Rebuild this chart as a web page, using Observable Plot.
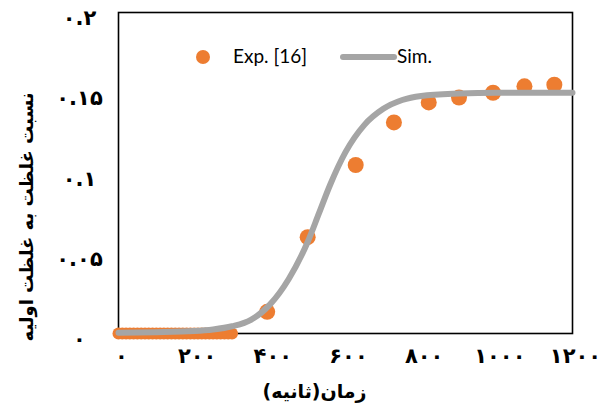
<!DOCTYPE html>
<html>
<head>
<meta charset="utf-8">
<script src="https://cdn.jsdelivr.net/npm/d3@7"></script>
<script src="https://cdn.jsdelivr.net/npm/@observablehq/plot@0.6"></script>
<style>
  html, body { margin: 0; padding: 0; background: #fff; }
  #wrap { position: relative; width: 610px; height: 412px; }
  #legend { position: absolute; left: 0; top: 0; font-family: Lato, "Open Sans", sans-serif; font-size: 19px; color: #000; }
  .lg { position: absolute; white-space: nowrap; }
  .dot { position: absolute; width: 14px; height: 14px; border-radius: 50%; background: #ED7D31; }
  .ln { position: absolute; height: 6px; border-radius: 3px; background: #A5A5A5; }
</style>
</head>
<body>
<div id="wrap">
  <div id="chart"></div>
  <div id="legend">
    <div class="dot" style="left:196px; top:50px;"></div>
    <div class="lg" style="left:233px; top:44px;">Exp. [16]</div>
    <div class="ln" style="left:340px; top:54px; width:57px;"></div>
    <div class="lg" style="left:397px; top:44px;">Sim.</div>
  </div>
</div>
<script>
// Axis ticks and labels (Persian digits)
const xTicks = [0, 200, 400, 600, 800, 1000, 1200];
const xTickLabels = ["۰", "۲۰۰", "۴۰۰", "۶۰۰", "۸۰۰", "۱۰۰۰", "۱۲۰۰"];
const yTicks = [0, 0.05, 0.1, 0.15, 0.2];
const yTickLabels = ["۰", "۰.۰۵", "۰.۱", "۰.۱۵", "۰.۲"];
const xTitle = "زمان(ثانیه)";
const yTitle = "نسبت غلظت به غلظت اولیه";

// Experimental data [16] — dense early points at zero
const expFlatTimes = [0, 10, 20, 30, 40, 50, 60, 70, 80, 90, 100, 110, 120, 130, 140, 150, 160, 170, 180, 190, 200, 210, 220, 230, 240, 250, 260, 270, 280, 290, 300];
const expFlatValues = [0, 0, 0, 0, 0, 0, 0, 0, 0, 0, 0, 0, 0, 0, 0, 0, 0, 0, 0, 0, 0, 0, 0, 0, 0, 0, 0, 0, 0, 0, 0];
// Experimental data [16] — later points
const expTimes = [393, 500, 627, 728, 820, 900, 990, 1073, 1152];
const expValues = [0.0135, 0.060, 0.105, 0.1315, 0.144, 0.147, 0.150, 0.154, 0.155];

// Simulation
const simTimes = [0, 100, 200, 250, 300, 350, 400, 450, 500, 530, 560, 600, 650, 700, 750, 800, 900, 1000, 1100, 1200];
const simValues = [0.0005, 0.0008, 0.0015, 0.0025, 0.0045, 0.0085, 0.018, 0.034, 0.057, 0.075, 0.093, 0.113, 0.130, 0.140, 0.1455, 0.148, 0.1495, 0.150, 0.150, 0.150];

const flat = expFlatTimes.map((t, i) => ({t, v: expFlatValues[i]}));
const exp = expTimes.map((t, i) => ({t, v: expValues[i]}));
const sim = simTimes.map((t, i) => ({t, v: simValues[i]}));

const chart = Plot.plot({
  width: 610,
  height: 412,
  marginLeft: 118,
  marginRight: 38,
  marginTop: 12,
  marginBottom: 79,
  style: {fontFamily: "DejaVu Sans", fontWeight: "bold", fontSize: "21px", color: "#000", background: "#fff"},
  x: {domain: [0, 1200]},
  y: {domain: [0, 0.2]},
  marks: [
    Plot.frame({stroke: "#000", strokeWidth: 1.6}),
    Plot.axisX(xTicks, {tickSize: 0, tickPadding: 15, dx: 3, fontSize: 21, tickFormat: d => xTickLabels[xTicks.indexOf(d)], label: null, fill: "#000"}),
    Plot.axisY(yTicks, {tickSize: 0, tickPadding: 39, textAnchor: "middle", dy: 6, fontSize: 21, tickFormat: d => yTickLabels[yTicks.indexOf(d)], label: null, fill: "#000"}),
    Plot.dot(flat, {x: "t", y: "v", r: 6, fill: "#ED7D31", stroke: "none"}),
    Plot.dot(exp, {x: "t", y: "v", r: 8, fill: "#ED7D31", stroke: "none"}),
    Plot.line(sim, {x: "t", y: "v", stroke: "#A5A5A5", strokeWidth: 6, curve: "monotone-x", strokeLinecap: "round"}),
    Plot.text([xTitle], {frameAnchor: "bottom", dy: 64, dx: -31, text: d => d, textAnchor: "middle", fontSize: 19, fontWeight: "bold", fontFamily: "DejaVu Sans"}),
    Plot.text([yTitle], {frameAnchor: "left", dx: -91, dy: 44, rotate: -90, text: d => d, textAnchor: "middle", fontSize: 18, fontWeight: "bold", fontFamily: "DejaVu Sans"})
  ]
});
document.getElementById("chart").appendChild(chart);
</script>
</body>
</html>
